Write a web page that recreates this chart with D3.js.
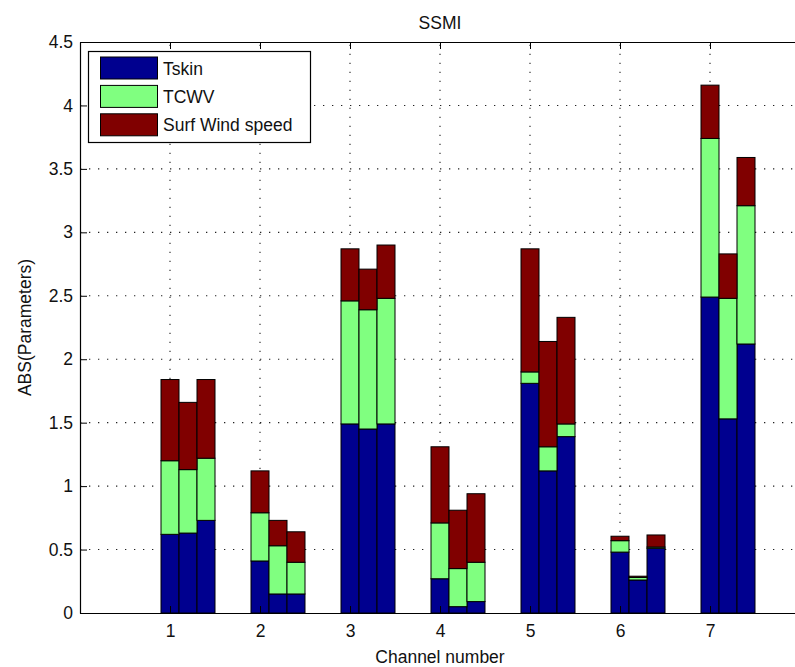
<!DOCTYPE html>
<html>
<head>
<meta charset="utf-8">
<script src="https://cdn.jsdelivr.net/npm/d3@7"></script>
<style>
  html, body { margin: 0; padding: 0; background: #fff; }
  svg text { font-family: "Liberation Sans", Arial, Helvetica, sans-serif; fill: #111; }
</style>
</head>
<body>
<svg id="chart" width="795" height="667"></svg>
<script>
// ---- data ----
const channels = [1, 2, 3, 4, 5, 6, 7];
const barOffsets = [0, 0.2, 0.4];           // three bars per channel
const seriesNames = ["Tskin", "TCWV", "Surf Wind speed"];
const seriesColors = ["#00008f", "#80ff80", "#800000"];
const tskin = [
  [0.62, 0.63, 0.73], [0.41, 0.15, 0.15], [1.49, 1.45, 1.49], [0.27, 0.05, 0.09],
  [1.81, 1.12, 1.39], [0.48, 0.26, 0.51], [2.49, 1.53, 2.12]
];
const tcwv = [
  [0.58, 0.50, 0.49], [0.38, 0.38, 0.25], [0.97, 0.94, 0.99], [0.44, 0.30, 0.31],
  [0.09, 0.19, 0.10], [0.09, 0.02, 0.01], [1.25, 0.95, 1.09]
];
const windSpeed = [
  [0.64, 0.53, 0.62], [0.33, 0.20, 0.24], [0.41, 0.32, 0.42], [0.60, 0.46, 0.54],
  [0.97, 0.83, 0.84], [0.035, 0.01, 0.095], [0.42, 0.35, 0.38]
];
const yTicks = [0, 0.5, 1, 1.5, 2, 2.5, 3, 3.5, 4, 4.5];
const yTickLabels = ["0", "0.5", "1", "1.5", "2", "2.5", "3", "3.5", "4", "4.5"];
const chartTitle = "SSMI";
const xLabel = "Channel number";
const yLabel = "ABS(Parameters)";

// ---- build rows ----
const keys = ["tskin", "tcwv", "wind"];
const rows = [];
channels.forEach((c, i) => {
  barOffsets.forEach((o, j) => {
    rows.push({ x: c + o, tskin: tskin[i][j], tcwv: tcwv[i][j], wind: windSpeed[i][j] });
  });
});
const stacked = d3.stack().keys(keys)(rows);

// ---- layout ----
const svg = d3.select("#chart");
const pLeft = 80, pRight = 800, pTop = 42, pBottom = 613;
const x = d3.scaleLinear().domain([0, 8]).range([pLeft, pRight]);
const y = d3.scaleLinear().domain([0, 4.5]).range([pBottom, pTop]);
const barW = x(0.2) - x(0);
const FS = 17.5;

// grid
const grid = svg.append("g").attr("stroke", "#222").attr("stroke-width", 1.1)
  .attr("stroke-dasharray", "1.3,7.7");
grid.selectAll("line.gx").data(channels).join("line")
  .attr("x1", d => x(d)).attr("x2", d => x(d)).attr("y1", pBottom).attr("y2", pTop);
grid.selectAll("line.gy").data(yTicks.filter(v => v > 0 && v < 4.5)).join("line")
  .attr("y1", d => y(d)).attr("y2", d => y(d)).attr("x1", pLeft).attr("x2", pRight);

// bars
svg.append("g").selectAll("g").data(stacked).join("g")
  .attr("fill", (d, i) => seriesColors[i])
  .selectAll("rect").data(d => d).join("rect")
  .attr("x", d => x(d.data.x) - barW / 2)
  .attr("width", barW)
  .attr("y", d => y(d[1]))
  .attr("height", d => y(d[0]) - y(d[1]))
  .attr("stroke", "#000").attr("stroke-width", 1);

// axes (MATLAB style: ticks inside)
const axL = svg.append("g").attr("transform", `translate(${pLeft},0)`)
  .call(d3.axisLeft(y).tickValues(yTicks).tickFormat((d, i) => yTickLabels[i])
    .tickSizeInner(-7).tickSizeOuter(0).tickPadding(7));
const axB = svg.append("g").attr("transform", `translate(0,${pBottom})`)
  .call(d3.axisBottom(x).tickValues(channels).tickFormat(d3.format("d"))
    .tickSizeInner(-7).tickSizeOuter(0).tickPadding(12));
const axT = svg.append("g").attr("transform", `translate(0,${pTop})`)
  .call(d3.axisTop(x).tickValues(channels).tickFormat("")
    .tickSizeInner(-7).tickSizeOuter(0));
[axL, axB, axT].forEach(a => {
  a.select(".domain").attr("stroke", "#000").attr("stroke-width", 1.2);
  a.selectAll(".tick line").attr("stroke", "#000");
  a.selectAll(".tick text").attr("font-size", FS)
    .attr("font-family", '"Liberation Sans", Arial, sans-serif').attr("fill", "#111");
});
axT.selectAll(".tick text").remove();

// texts
svg.append("text").attr("x", (pLeft + pRight) / 2).attr("y", 29)
  .attr("text-anchor", "middle").attr("font-size", FS).text(chartTitle);
svg.append("text").attr("x", (pLeft + pRight) / 2).attr("y", 663)
  .attr("text-anchor", "middle").attr("font-size", FS).text(xLabel);
svg.append("text").attr("transform", `translate(31,${(pTop + pBottom) / 2}) rotate(-90)`)
  .attr("text-anchor", "middle").attr("font-size", FS).text(yLabel);

// legend
const lg = svg.append("g");
lg.append("rect").attr("x", 88.5).attr("y", 51.5).attr("width", 222).attr("height", 91)
  .attr("fill", "#fff").attr("stroke", "#000").attr("stroke-width", 1.2);
seriesNames.forEach((name, i) => {
  const cy = 68 + i * 28.4;
  lg.append("rect").attr("x", 100.5).attr("y", cy - 11).attr("width", 57).attr("height", 22)
    .attr("fill", seriesColors[i]).attr("stroke", "#000").attr("stroke-width", 1);
  lg.append("text").attr("x", 163).attr("y", cy + 6.5).attr("font-size", FS).text(name);
});
</script>
</body>
</html>
